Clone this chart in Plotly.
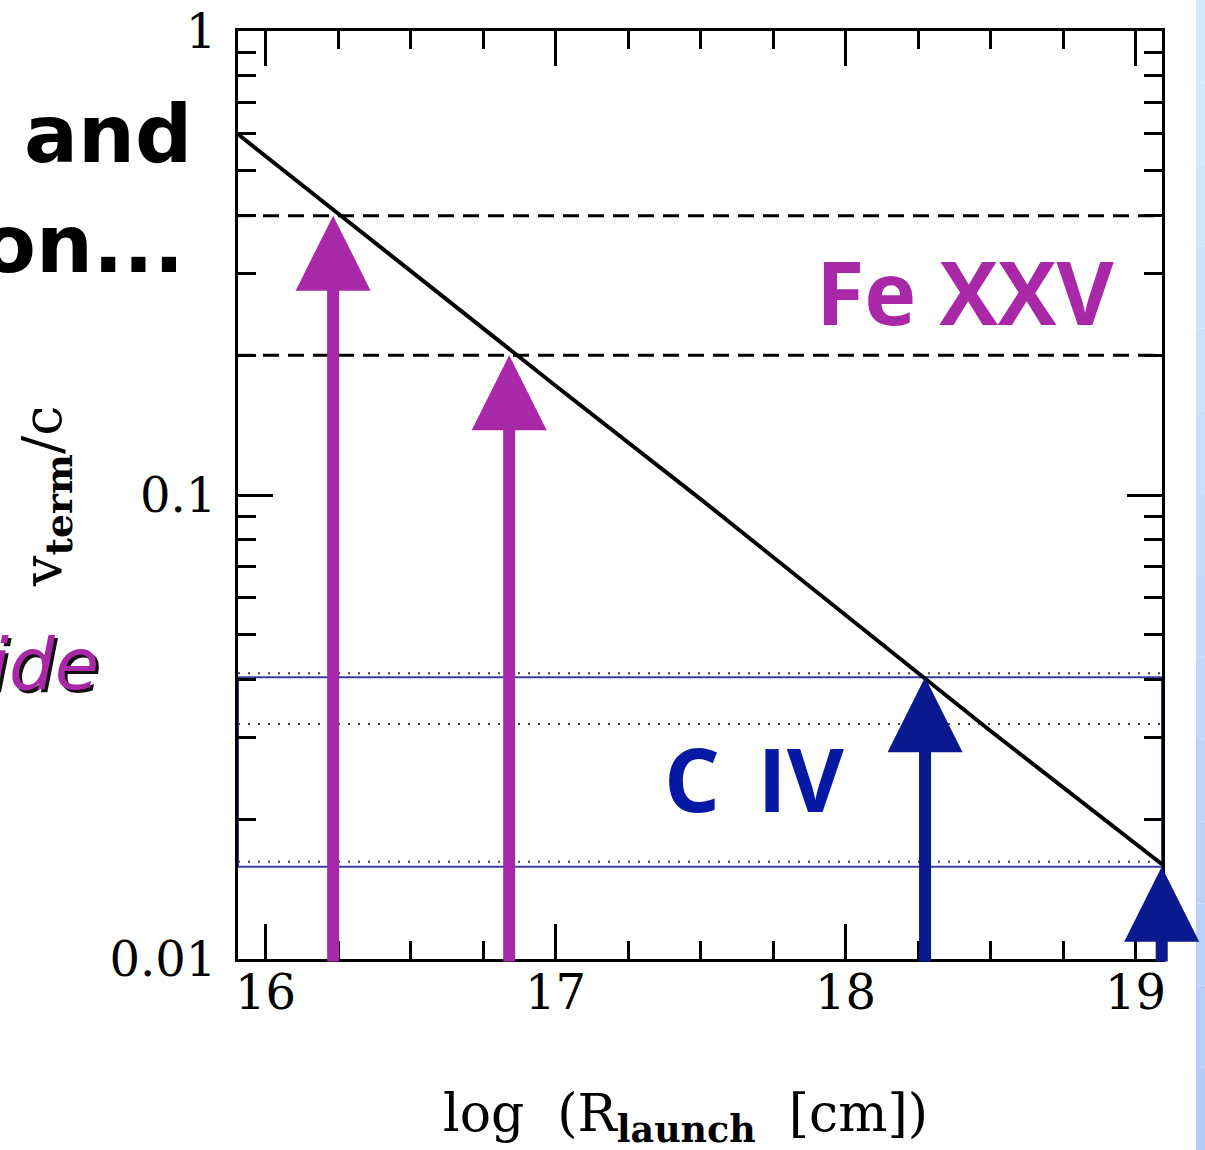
import math
import plotly.graph_objects as go

# Terminal wind velocity (v_term / c) against launch radius, log-log
curve_log_r = [15.905, 16.5, 17.0, 17.5, 18.0, 18.5, 19.091]
curve_v = [0.599, 0.304, 0.172, 0.098, 0.055, 0.031, 0.0160]

# Velocity levels marked across the plot
fe_xxv_levels = [0.40, 0.20]                 # dashed
civ_dotted_levels = [0.0413, 0.0321, 0.0162]  # dotted
civ_band = [0.0158, 0.0405]                   # boxed C IV range

# Arrows: launch radius and the velocity reached at the tip
fe_arrow_log_r = [16.233, 16.840]
fe_arrow_v = [0.40, 0.20]
civ_arrow_log_r = [18.274, 19.09]
civ_arrow_v = [0.0405, 0.0158]
arrow_base_v = 0.0098

x_range = [15.905, 19.091]
x_tickvals = [16, 17, 18, 19]
x_ticktext = ["16", "17", "18", "19"]
y_tickvals = [0.01, 0.1, 1]
y_ticktext = ["0.01", "0.1", "1"]

MAGENTA = "#A828A8"
NAVY = "#0A1A8E"
CIV_TEXT = "#0519A5"
BOX_BLUE = "#3B3FA5"

# plot-area geometry in pixels (used to place slide text in paper coords)
W, H = 1205, 1150
ML, MR, MT, MB = 238, 43, 31, 191
PW, PH = W - ML - MR, H - MT - MB


def px_x(p):
    return (p - ML) / PW


def px_y(p):
    return (H - MB - p) / PH


fig = go.Figure()

for lv in fe_xxv_levels:
    fig.add_trace(go.Scatter(x=x_range, y=[lv, lv], mode="lines",
                             line=dict(color="black", width=3, dash="16px,9px"),
                             hoverinfo="skip"))

for lv in civ_dotted_levels:
    fig.add_trace(go.Scatter(x=x_range, y=[lv, lv], mode="lines",
                             line=dict(color="#444444", width=2, dash="2px,8px"),
                             hoverinfo="skip"))

fig.add_trace(go.Scatter(
    x=[x_range[0], x_range[1], x_range[1], x_range[0], x_range[0]],
    y=[civ_band[0], civ_band[0], civ_band[1], civ_band[1], civ_band[0]],
    mode="lines", line=dict(color=BOX_BLUE, width=2), cliponaxis=False,
    hoverinfo="skip"))

fig.add_trace(go.Scatter(x=curve_log_r, y=curve_v, mode="lines",
                         line=dict(color="black", width=4)))

# arrows from below the axis up to the marked velocities
for xs, vs, col in [(fe_arrow_log_r, fe_arrow_v, MAGENTA),
                    (civ_arrow_log_r, civ_arrow_v, NAVY)]:
    for x, v in zip(xs, vs):
        fig.add_annotation(x=x, y=math.log10(v), xref="x", yref="y",
                           ax=x, ay=math.log10(arrow_base_v), axref="x", ayref="y",
                           text="", showarrow=True, arrowhead=2, arrowsize=1.25,
                           arrowwidth=12, arrowcolor=col, font=dict(size=1))

# line labels
fig.add_annotation(x=px_x(814), y=px_y(291), xref="paper", yref="paper",
                   xanchor="left", yanchor="middle", showarrow=False,
                   text="Fe XXV",
                   font=dict(family="Open Sans", size=88, color=MAGENTA, weight="bold"))
fig.add_annotation(x=px_x(662), y=px_y(778), xref="paper", yref="paper",
                   xanchor="left", yanchor="middle", showarrow=False,
                   text="C\u2009 IV",
                   font=dict(family="Open Sans", size=88, color=CIV_TEXT, weight="bold"))

# axis titles
fig.add_annotation(x=px_x(685), y=px_y(1117), xref="paper", yref="paper",
                   xanchor="center", yanchor="middle", showarrow=False,
                   text="log  (R<sub><b>launch</b></sub>  [cm])",
                   font=dict(family="DejaVu Serif", size=52, color="black"))
fig.add_annotation(x=px_x(46), y=px_y(497), xref="paper", yref="paper",
                   xanchor="center", yanchor="middle", showarrow=False,
                   textangle=-90, text="v<sub><b>term</b></sub>/c",
                   font=dict(family="DejaVu Serif", size=54, color="black"))

# slide text at the left edge
for txt, xr, yc in [("and", 194, 134), ("on...", 186, 244)]:
    fig.add_annotation(x=px_x(xr), y=px_y(yc), xref="paper", yref="paper",
                       xanchor="right", yanchor="middle", showarrow=False,
                       text=txt,
                       font=dict(family="DejaVu Sans", size=80, color="black", weight="bold"))
for col, dx, dy in [("#111111", 3, -3), (MAGENTA, 0, 0)]:
    fig.add_annotation(x=px_x(101), y=px_y(664), xref="paper", yref="paper",
                       xanchor="right", yanchor="middle", showarrow=False,
                       xshift=dx, yshift=dy, text="<i>ide</i>",
                       font=dict(family="DejaVu Sans", size=72, color=col))

# light blue strip at the right edge (vertical gradient)
n_bands = 14
top_rgb, bot_rgb = (214, 234, 251), (180, 204, 246)
for i in range(n_bands):
    t = i / (n_bands - 1)
    rgb = tuple(round(a + (b - a) * t) for a, b in zip(top_rgb, bot_rgb))
    fig.add_shape(type="rect", xref="paper", yref="paper",
                  x0=px_x(1196), x1=px_x(1210),
                  y0=px_y(H * (i + 1) / n_bands), y1=px_y(H * i / n_bands),
                  line=dict(width=0), fillcolor="rgb(%d,%d,%d)" % rgb, layer="below")

axis_common = dict(showline=True, linewidth=3, linecolor="black", mirror="allticks",
                   ticks="inside", ticklen=35, tickwidth=2.5, tickcolor="black",
                   showgrid=False, zeroline=False, automargin=False,
                   tickfont=dict(family="DejaVu Serif", size=48, color="black"))

fig.update_layout(
    width=W, height=H,
    margin=dict(l=ML, r=MR, t=MT, b=MB, autoexpand=False),
    paper_bgcolor="white", plot_bgcolor="white",
    showlegend=False,
    xaxis=dict(range=x_range, tickvals=x_tickvals, ticktext=x_ticktext,
               ticklabelstandoff=-11,
               minor=dict(ticks="inside", ticklen=18, tickwidth=2.5, tickcolor="black",
                          dtick=0.25, tick0=16, showgrid=False),
               **axis_common),
    yaxis=dict(type="log", range=[-2, 0], tickvals=y_tickvals, ticktext=y_ticktext,
               ticklabelstandoff=9,
               minor=dict(ticks="inside", ticklen=18, tickwidth=2.5, tickcolor="black",
                          dtick="D1", showgrid=False),
               **axis_common),
)

fig.write_html("out.html")
